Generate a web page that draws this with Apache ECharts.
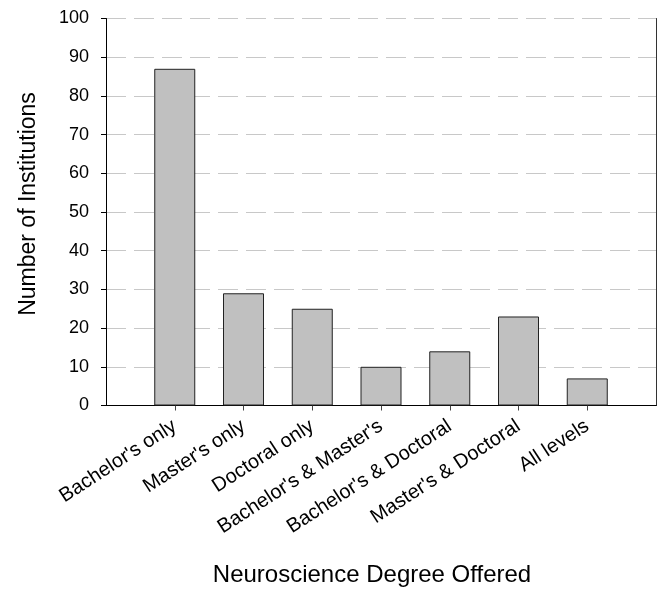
<!DOCTYPE html>
<html>
<head>
<meta charset="utf-8">
<script src="https://cdn.jsdelivr.net/npm/echarts@6/dist/echarts.min.js"></script>
<style>
html,body{margin:0;padding:0;background:#fff;}
#chart{width:659px;height:591px;}
</style>
</head>
<body>
<div id="chart"></div>
<script>
const categories = ["Bachelor's only", "Master's only", "Doctoral only", "Bachelor's & Master's", "Bachelor's & Doctoral", "Master's & Doctoral", "All levels"];
const institutions = [87, 29, 25, 10, 14, 23, 7];
const yTicks = [0, 10, 20, 30, 40, 50, 60, 70, 80, 90, 100];
const xTitle = "Neuroscience Degree Offered";
const yTitle = "Number of Institutions";

const axisCats = [''].concat(categories, ['']);
const barData = [null].concat(institutions, [null]);
const FONT = '"Liberation Sans", Arial, sans-serif';

const chart = echarts.init(document.getElementById('chart'), null, {renderer: 'canvas'});
chart.setOption({
  animation: false,
  backgroundColor: '#fff',
  grid: {left: 106, right: 3, top: 18.5, bottom: 185.5, show: false, containLabel: false, outerBoundsMode: 'none'},
  xAxis: [{
    type: 'category',
    data: axisCats,
    boundaryGap: false,
    name: xTitle,
    nameLocation: 'middle',
    nameGap: 158,
    nameTextStyle: {fontFamily: FONT, fontSize: 24, color: '#000', padding: [0, 18, 0, 0]},
    axisLine: {lineStyle: {color: '#000', width: 1}},
    axisTick: {show: true, length: 5, lineStyle: {color: '#444'}, interval: function (i) { return i > 0 && i < axisCats.length - 1; }},
    axisLabel: {interval: 0, rotate: 33, margin: 19, fontFamily: FONT, fontSize: 20, color: '#000'},
    splitLine: {show: false}
  }, {
    type: 'category',
    data: axisCats,
    boundaryGap: false,
    position: 'top',
    axisLine: {show: true, lineStyle: {color: '#000', width: 1}},
    axisTick: {show: false},
    axisLabel: {show: false},
    splitLine: {show: false}
  }],
  yAxis: [{
    type: 'value',
    min: yTicks[0],
    max: yTicks[yTicks.length - 1],
    interval: 10,
    name: yTitle,
    nameLocation: 'middle',
    nameGap: 66,
    nameTextStyle: {fontFamily: FONT, fontSize: 23, color: '#000', padding: [0, 0, 0, 16]},
    axisLine: {show: true, lineStyle: {color: '#000', width: 1}},
    axisTick: {show: true, length: 5, lineStyle: {color: '#000'}},
    axisLabel: {margin: 17, fontFamily: FONT, fontSize: 18, color: '#000'},
    splitLine: {show: true, lineStyle: {color: '#c8c8c8', width: 1, type: [20, 8]}}
  }, {
    type: 'value',
    min: yTicks[0],
    max: yTicks[yTicks.length - 1],
    interval: 10,
    position: 'right',
    axisLine: {show: true, lineStyle: {color: '#333', width: 1}},
    axisTick: {show: false},
    axisLabel: {show: false},
    splitLine: {show: false}
  }],
  series: [{
    type: 'bar',
    data: barData,
    barWidth: 41,
    itemStyle: {color: '#c0c0c0', borderColor: '#222', borderWidth: 1}
  }]
});
</script>
</body>
</html>
